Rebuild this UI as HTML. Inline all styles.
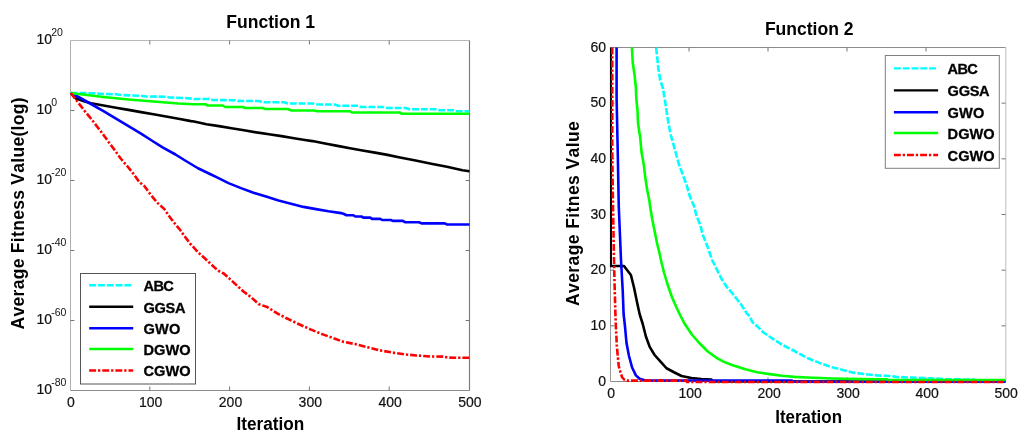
<!DOCTYPE html>
<html lang="en">
<head>
<meta charset="utf-8">
<title>Convergence curves</title>
<style>
html,body{margin:0;padding:0;background:#fff;}
body{width:1024px;height:436px;overflow:hidden;}
svg{display:block;}
text{font-family:"Liberation Sans",Arial,Helvetica,sans-serif;fill:#111;font-kerning:none;}
.tk{font-size:14px;fill:#111;stroke:#111;stroke-width:0.2px;}
.sup{font-size:10.5px;fill:#111;}
.lb{font-size:17.5px;font-weight:bold;fill:#000;}
.lg{font-size:14.6px;font-weight:bold;fill:#000;stroke:#000;stroke-width:0.3px;}
</style>
</head>
<body>
<svg width="1024" height="436" viewBox="0 0 1024 436">
<rect x="0" y="0" width="1024" height="436" fill="#ffffff"/>
<defs>
<clipPath id="cl"><rect x="69.2" y="39.2" width="401" height="352.6"/></clipPath>
<clipPath id="cr"><rect x="609.9" y="47" width="396.4" height="337"/></clipPath>
</defs>

<g id="plot-left">
<line x1="70.5" y1="40.5" x2="70.5" y2="390.5" stroke="#b0b0b0" stroke-width="1"/>
<line x1="70.5" y1="40.5" x2="469.5" y2="40.5" stroke="#b8b8b8" stroke-width="1"/>
<line x1="70.5" y1="390.5" x2="469.5" y2="390.5" stroke="#8c8c8c" stroke-width="1"/>
<line x1="469.5" y1="40.5" x2="469.5" y2="390.5" stroke="#7a7a7a" stroke-width="1.15"/>
<text class="tk" x="70.90" y="407.1" text-anchor="middle">0</text>
<line x1="149.80" y1="390.5" x2="149.80" y2="386.5" stroke="#757575" stroke-width="1"/>
<line x1="149.80" y1="40.5" x2="149.80" y2="44.5" stroke="#757575" stroke-width="1"/>
<text class="tk" x="150.70" y="407.1" text-anchor="middle">100</text>
<line x1="229.60" y1="390.5" x2="229.60" y2="386.5" stroke="#757575" stroke-width="1"/>
<line x1="229.60" y1="40.5" x2="229.60" y2="44.5" stroke="#757575" stroke-width="1"/>
<text class="tk" x="230.50" y="407.1" text-anchor="middle">200</text>
<line x1="309.40" y1="390.5" x2="309.40" y2="386.5" stroke="#757575" stroke-width="1"/>
<line x1="309.40" y1="40.5" x2="309.40" y2="44.5" stroke="#757575" stroke-width="1"/>
<text class="tk" x="310.30" y="407.1" text-anchor="middle">300</text>
<line x1="389.20" y1="390.5" x2="389.20" y2="386.5" stroke="#757575" stroke-width="1"/>
<line x1="389.20" y1="40.5" x2="389.20" y2="44.5" stroke="#757575" stroke-width="1"/>
<text class="tk" x="390.10" y="407.1" text-anchor="middle">400</text>
<text class="tk" x="469.90" y="407.1" text-anchor="middle">500</text>
<text class="tk" x="36.4" y="44.40">10</text>
<text class="sup" x="51.2" y="35.60">20</text>
<line x1="70.5" y1="110.50" x2="74.4" y2="110.50" stroke="#757575" stroke-width="1"/>
<line x1="469.5" y1="110.50" x2="465.6" y2="110.50" stroke="#757575" stroke-width="1"/>
<text class="tk" x="36.4" y="114.40">10</text>
<text class="sup" x="51.2" y="105.60">0</text>
<line x1="70.5" y1="180.50" x2="74.4" y2="180.50" stroke="#757575" stroke-width="1"/>
<line x1="469.5" y1="180.50" x2="465.6" y2="180.50" stroke="#757575" stroke-width="1"/>
<text class="tk" x="36.4" y="184.40">10</text>
<text class="sup" x="51.2" y="175.60">-20</text>
<line x1="70.5" y1="250.50" x2="74.4" y2="250.50" stroke="#757575" stroke-width="1"/>
<line x1="469.5" y1="250.50" x2="465.6" y2="250.50" stroke="#757575" stroke-width="1"/>
<text class="tk" x="36.4" y="254.40">10</text>
<text class="sup" x="51.2" y="245.60">-40</text>
<line x1="70.5" y1="320.50" x2="74.4" y2="320.50" stroke="#757575" stroke-width="1"/>
<line x1="469.5" y1="320.50" x2="465.6" y2="320.50" stroke="#757575" stroke-width="1"/>
<text class="tk" x="36.4" y="324.40">10</text>
<text class="sup" x="51.2" y="315.60">-60</text>
<text class="tk" x="36.4" y="394.40">10</text>
<text class="sup" x="51.2" y="385.60">-80</text>
<polyline points="70.75,93.00 94.75,93.25 103.50,94.00 116.00,94.25 122.25,95.10 141.00,95.75 146.00,96.50 166.00,96.75 169.75,97.50 184.75,98.00 193.50,98.75 194.00,99.00 209.00,99.00 212.75,100.00 235.25,100.25 237.75,100.90 259.00,101.00 262.75,102.25 284.00,102.25 287.75,103.50 312.75,103.50 316.50,104.25 322.00,104.50 334.50,104.50 338.25,105.75 358.25,105.75 360.75,107.00 383.25,107.00 387.00,108.00 405.75,108.00 409.50,109.25 437.00,109.25 439.50,110.25 453.25,110.25 455.75,111.25 469.50,111.25" fill="none" stroke="#00ffff" stroke-width="2.6" stroke-linejoin="round" stroke-dasharray="6.9 1.9" clip-path="url(#cl)"/>
<polyline points="70.75,93.00 76.00,98.60 84.75,101.50 91.00,103.25 103.50,105.50 116.00,107.75 128.50,109.90 141.00,112.10 153.50,114.25 166.00,116.50 178.50,118.75 191.00,121.10 194.00,121.50 206.50,124.25 219.00,126.10 231.50,128.25 244.00,130.25 256.50,132.40 269.00,134.25 281.50,136.10 294.00,138.25 306.50,140.25 312.50,141.10 325.00,143.60 337.50,145.90 350.00,148.25 362.50,150.50 375.00,152.60 387.50,154.90 400.00,157.40 415.60,160.50 431.25,163.70 446.90,166.80 462.50,170.20 469.50,171.25" fill="none" stroke="#000000" stroke-width="2.6" stroke-linejoin="round" clip-path="url(#cl)"/>
<polyline points="70.75,93.00 78.50,97.00 91.00,104.00 103.50,111.10 116.00,118.60 128.50,126.10 141.00,133.60 153.25,141.50 163.00,147.60 175.50,154.50 185.50,160.75 198.00,168.25 210.50,174.25 216.00,176.90 228.50,183.10 241.00,188.10 253.50,192.75 266.00,196.60 278.50,200.60 291.00,203.75 303.50,206.90 316.00,209.10 328.50,211.25 341.00,213.10 344.00,214.00 346.50,215.25 353.40,215.25 355.25,216.50 361.50,216.50 363.40,217.60 370.25,217.60 372.10,218.90 380.25,218.90 382.10,220.00 390.90,220.00 392.75,220.90 402.75,220.90 405.25,222.25 419.00,222.25 421.50,223.40 444.60,223.40 447.10,224.50 469.50,224.50" fill="none" stroke="#0000ff" stroke-width="2.6" stroke-linejoin="round" clip-path="url(#cl)"/>
<polyline points="70.75,93.00 78.50,94.00 91.00,95.50 103.50,97.00 116.00,98.25 128.50,99.50 141.00,100.50 153.50,101.50 166.00,102.50 178.50,103.50 193.50,104.25 205.25,104.25 207.75,105.50 222.75,105.50 225.25,107.00 242.75,107.00 245.25,108.00 262.75,108.00 265.25,109.00 287.75,109.00 291.50,110.50 314.00,110.50 317.75,111.25 350.10,111.25 352.00,112.50 399.50,112.50 402.00,113.75 469.50,113.75" fill="none" stroke="#00ff00" stroke-width="2.6" stroke-linejoin="round" clip-path="url(#cl)"/>
<polyline points="70.75,93.00 78.50,103.00 84.75,111.10 91.00,118.60 97.25,126.75 103.50,134.90 108.60,142.00 114.25,149.50 120.50,158.25 128.00,167.00 133.00,173.25 139.25,182.00 144.30,186.00 150.50,194.50 157.50,202.90 164.40,209.10 168.10,214.75 173.75,222.25 180.00,229.75 184.40,236.00 190.00,243.50 198.75,252.90 205.00,258.50 215.00,267.90 218.75,271.00 223.75,273.50 230.00,279.10 236.25,284.90 243.50,291.50 251.00,297.10 258.50,304.00 267.25,307.10 277.25,313.40 286.00,318.00 298.50,324.00 311.00,329.60 323.50,334.60 333.00,338.00 342.50,341.60 355.00,344.10 367.50,347.25 380.00,350.40 392.50,352.60 405.00,354.40 417.50,355.50 430.00,356.50 442.50,356.60 448.75,357.60 457.50,357.75 469.50,357.75" fill="none" stroke="#ff0000" stroke-width="2.6" stroke-linejoin="round" stroke-dasharray="6.9 1.9 2.3 2.0" clip-path="url(#cl)"/>
<rect x="80.5" y="273.5" width="115" height="110.5" fill="#ffffff" stroke="#555" stroke-width="1"/>
<line x1="89.2" y1="285.25" x2="133.2" y2="285.25" stroke="#00ffff" stroke-width="2.35" stroke-dasharray="6.9 1.9"/>
<text class="lg" x="143.5" y="291.20" textLength="30.3" lengthAdjust="spacing">ABC</text>
<line x1="89.2" y1="306.75" x2="133.2" y2="306.75" stroke="#000000" stroke-width="2.35"/>
<text class="lg" x="143.5" y="312.70" textLength="42.0" lengthAdjust="spacing">GGSA</text>
<line x1="89.2" y1="328.25" x2="133.2" y2="328.25" stroke="#0000ff" stroke-width="2.35"/>
<text class="lg" x="143.5" y="334.20" textLength="36.8" lengthAdjust="spacing">GWO</text>
<line x1="89.2" y1="349" x2="133.2" y2="349" stroke="#00ff00" stroke-width="2.35"/>
<text class="lg" x="143.5" y="354.95" textLength="47.0" lengthAdjust="spacing">DGWO</text>
<line x1="89.2" y1="370.5" x2="133.2" y2="370.5" stroke="#ff0000" stroke-width="2.35" stroke-dasharray="6.9 1.9 2.3 2.0"/>
<text class="lg" x="143.5" y="376.45" textLength="47.0" lengthAdjust="spacing">CGWO</text>
<text class="lb" x="270.7" y="27.7" text-anchor="middle" textLength="88.8" lengthAdjust="spacingAndGlyphs">Function 1</text>
<text class="lb" x="270.4" y="430" text-anchor="middle" textLength="67.8" lengthAdjust="spacingAndGlyphs">Iteration</text>
<text class="lb" transform="translate(23.7 213.4) rotate(-90)" text-anchor="middle" textLength="232" lengthAdjust="spacing">Average Fitness Value(log)</text>
</g>
<g id="plot-right">
<line x1="610.5" y1="47.5" x2="610.5" y2="381.5" stroke="#999" stroke-width="1"/>
<line x1="610.5" y1="47.5" x2="1005.5" y2="47.5" stroke="#8c8c8c" stroke-width="1"/>
<line x1="610.5" y1="381.5" x2="1005.5" y2="381.5" stroke="#8c8c8c" stroke-width="1"/>
<line x1="1005.8" y1="47.0" x2="1005.8" y2="381.5" stroke="#bdbdbd" stroke-width="1"/>
<text class="tk" x="611.10" y="398.3" text-anchor="middle">0</text>
<line x1="689.00" y1="381.5" x2="689.00" y2="377.5" stroke="#757575" stroke-width="1"/>
<line x1="689.00" y1="47.5" x2="689.00" y2="51.5" stroke="#757575" stroke-width="1"/>
<text class="tk" x="690.10" y="398.3" text-anchor="middle">100</text>
<line x1="768.00" y1="381.5" x2="768.00" y2="377.5" stroke="#757575" stroke-width="1"/>
<line x1="768.00" y1="47.5" x2="768.00" y2="51.5" stroke="#757575" stroke-width="1"/>
<text class="tk" x="769.10" y="398.3" text-anchor="middle">200</text>
<line x1="847.00" y1="381.5" x2="847.00" y2="377.5" stroke="#757575" stroke-width="1"/>
<line x1="847.00" y1="47.5" x2="847.00" y2="51.5" stroke="#757575" stroke-width="1"/>
<text class="tk" x="848.10" y="398.3" text-anchor="middle">300</text>
<line x1="926.00" y1="381.5" x2="926.00" y2="377.5" stroke="#757575" stroke-width="1"/>
<line x1="926.00" y1="47.5" x2="926.00" y2="51.5" stroke="#757575" stroke-width="1"/>
<text class="tk" x="927.10" y="398.3" text-anchor="middle">400</text>
<text class="tk" x="1006.10" y="398.3" text-anchor="middle">500</text>
<text class="tk" x="606.1" y="51.80" text-anchor="end">60</text>
<line x1="610.5" y1="103.17" x2="614.4" y2="103.17" stroke="#757575" stroke-width="1"/>
<line x1="1005.5" y1="103.17" x2="1001.6" y2="103.17" stroke="#757575" stroke-width="1"/>
<text class="tk" x="606.1" y="107.47" text-anchor="end">50</text>
<line x1="610.5" y1="158.83" x2="614.4" y2="158.83" stroke="#757575" stroke-width="1"/>
<line x1="1005.5" y1="158.83" x2="1001.6" y2="158.83" stroke="#757575" stroke-width="1"/>
<text class="tk" x="606.1" y="163.13" text-anchor="end">40</text>
<line x1="610.5" y1="214.50" x2="614.4" y2="214.50" stroke="#757575" stroke-width="1"/>
<line x1="1005.5" y1="214.50" x2="1001.6" y2="214.50" stroke="#757575" stroke-width="1"/>
<text class="tk" x="606.1" y="218.80" text-anchor="end">30</text>
<line x1="610.5" y1="270.17" x2="614.4" y2="270.17" stroke="#757575" stroke-width="1"/>
<line x1="1005.5" y1="270.17" x2="1001.6" y2="270.17" stroke="#757575" stroke-width="1"/>
<text class="tk" x="606.1" y="274.47" text-anchor="end">20</text>
<line x1="610.5" y1="325.83" x2="614.4" y2="325.83" stroke="#757575" stroke-width="1"/>
<line x1="1005.5" y1="325.83" x2="1001.6" y2="325.83" stroke="#757575" stroke-width="1"/>
<text class="tk" x="606.1" y="330.13" text-anchor="end">10</text>
<text class="tk" x="606.1" y="385.80" text-anchor="end">0</text>
<polyline points="656.10,47.50 657.10,56.50 658.40,69.00 660.25,80.25 662.75,87.75 664.60,98.00 666.50,110.50 668.40,123.00 670.90,135.50 673.40,144.25 675.50,152.00 679.00,164.50 682.75,174.50 686.50,184.50 689.60,195.75 694.00,206.00 696.50,216.00 700.25,224.75 702.75,234.75 707.75,247.25 712.10,260.00 716.50,268.75 721.50,278.75 727.10,287.50 728.50,288.75 734.75,296.25 741.00,304.40 746.60,313.10 749.75,316.25 752.25,321.90 757.25,326.25 763.25,332.25 773.25,339.10 782.00,344.75 794.50,351.00 807.00,357.90 819.50,362.90 832.00,367.25 844.50,370.40 852.50,372.50 865.00,374.10 877.50,375.40 890.00,376.00 896.25,376.90 908.75,377.50 921.25,378.00 933.75,378.50 946.25,379.25 968.00,379.50 974.00,379.60 975.00,380.30 1005.50,380.30" fill="none" stroke="#00ffff" stroke-width="2.6" stroke-linejoin="round" stroke-dasharray="6.9 1.9" clip-path="url(#cr)"/>
<polyline points="610.70,47.50 610.70,266.00 624.00,266.00 630.90,275.00 634.00,287.50 637.10,302.50 639.60,314.00 642.75,324.00 645.90,336.50 649.70,346.90 654.60,355.00 661.00,362.20 666.50,368.25 674.00,372.25 681.50,376.00 691.50,378.00 701.50,379.00 711.50,379.50 712.00,381.50 1005.50,381.50" fill="none" stroke="#000000" stroke-width="2.6" stroke-linejoin="round" clip-path="url(#cr)"/>
<polyline points="616.60,47.50 616.60,98.00 617.75,152.00 618.75,206.00 621.00,260.00 622.75,291.25 623.60,314.00 625.00,326.50 626.50,343.00 629.00,356.00 632.10,367.50 635.90,375.40 639.60,378.75 644.00,380.00 648.00,380.50 792.00,380.50 792.50,381.80 1005.50,381.80" fill="none" stroke="#0000ff" stroke-width="2.6" stroke-linejoin="round" clip-path="url(#cr)"/>
<polyline points="631.90,47.50 632.75,62.75 634.60,75.25 635.90,87.75 636.25,98.00 637.50,110.50 638.00,123.00 640.25,138.00 641.50,152.00 643.75,164.50 645.25,177.00 647.10,189.50 649.60,202.00 650.00,206.00 652.10,218.50 654.60,231.00 657.10,243.50 659.60,253.50 660.90,260.00 664.00,272.50 667.75,285.00 672.10,297.50 676.50,307.50 679.60,314.00 684.00,322.75 691.50,334.00 699.00,342.75 707.75,351.50 716.50,357.80 724.00,361.90 732.00,365.00 744.50,369.10 757.00,372.25 769.50,374.10 782.00,375.75 794.50,376.90 807.00,377.50 832.00,378.50 860.00,379.10 887.00,379.40 888.00,380.00 1005.50,380.00" fill="none" stroke="#00ff00" stroke-width="2.6" stroke-linejoin="round" clip-path="url(#cr)"/>
<polyline points="612.25,47.50 612.25,152.00 613.00,206.00 614.00,260.00 614.60,285.00 615.40,314.00 615.90,326.50 616.50,339.00 616.80,346.00 617.75,356.00 618.75,366.00 619.60,369.50 622.10,377.25 624.60,380.00 627.00,380.60 686.50,380.60 687.00,382.00 1005.50,382.00" fill="none" stroke="#ff0000" stroke-width="2.6" stroke-linejoin="round" stroke-dasharray="6.9 1.9 2.3 2.0" clip-path="url(#cr)"/>
<rect x="885.3" y="55.5" width="114" height="112.8" fill="#ffffff" stroke="#808080" stroke-width="1"/>
<line x1="893.9" y1="68.3" x2="938.1" y2="68.3" stroke="#00ffff" stroke-width="2.35" stroke-dasharray="6.9 1.9"/>
<text class="lg" x="947.6" y="73.90" textLength="30.3" lengthAdjust="spacing">ABC</text>
<line x1="893.9" y1="90.3" x2="938.1" y2="90.3" stroke="#000000" stroke-width="2.35"/>
<text class="lg" x="947.6" y="95.90" textLength="42.0" lengthAdjust="spacing">GGSA</text>
<line x1="893.9" y1="112.25" x2="938.1" y2="112.25" stroke="#0000ff" stroke-width="2.35"/>
<text class="lg" x="947.6" y="117.85" textLength="36.8" lengthAdjust="spacing">GWO</text>
<line x1="893.9" y1="133" x2="938.1" y2="133" stroke="#00ff00" stroke-width="2.35"/>
<text class="lg" x="947.6" y="138.60" textLength="47.0" lengthAdjust="spacing">DGWO</text>
<line x1="893.9" y1="155" x2="938.1" y2="155" stroke="#ff0000" stroke-width="2.35" stroke-dasharray="6.9 1.9 2.3 2.0"/>
<text class="lg" x="947.6" y="160.60" textLength="47.0" lengthAdjust="spacing">CGWO</text>
<text class="lb" x="809.2" y="35" text-anchor="middle" textLength="88.6" lengthAdjust="spacingAndGlyphs">Function 2</text>
<text class="lb" x="808.6" y="422.5" text-anchor="middle" textLength="66.8" lengthAdjust="spacingAndGlyphs">Iteration</text>
<text class="lb" transform="translate(579 213.6) rotate(-90)" text-anchor="middle" textLength="184.8" lengthAdjust="spacing">Average Fitnes Value</text>
</g>
</svg>
</body>
</html>
